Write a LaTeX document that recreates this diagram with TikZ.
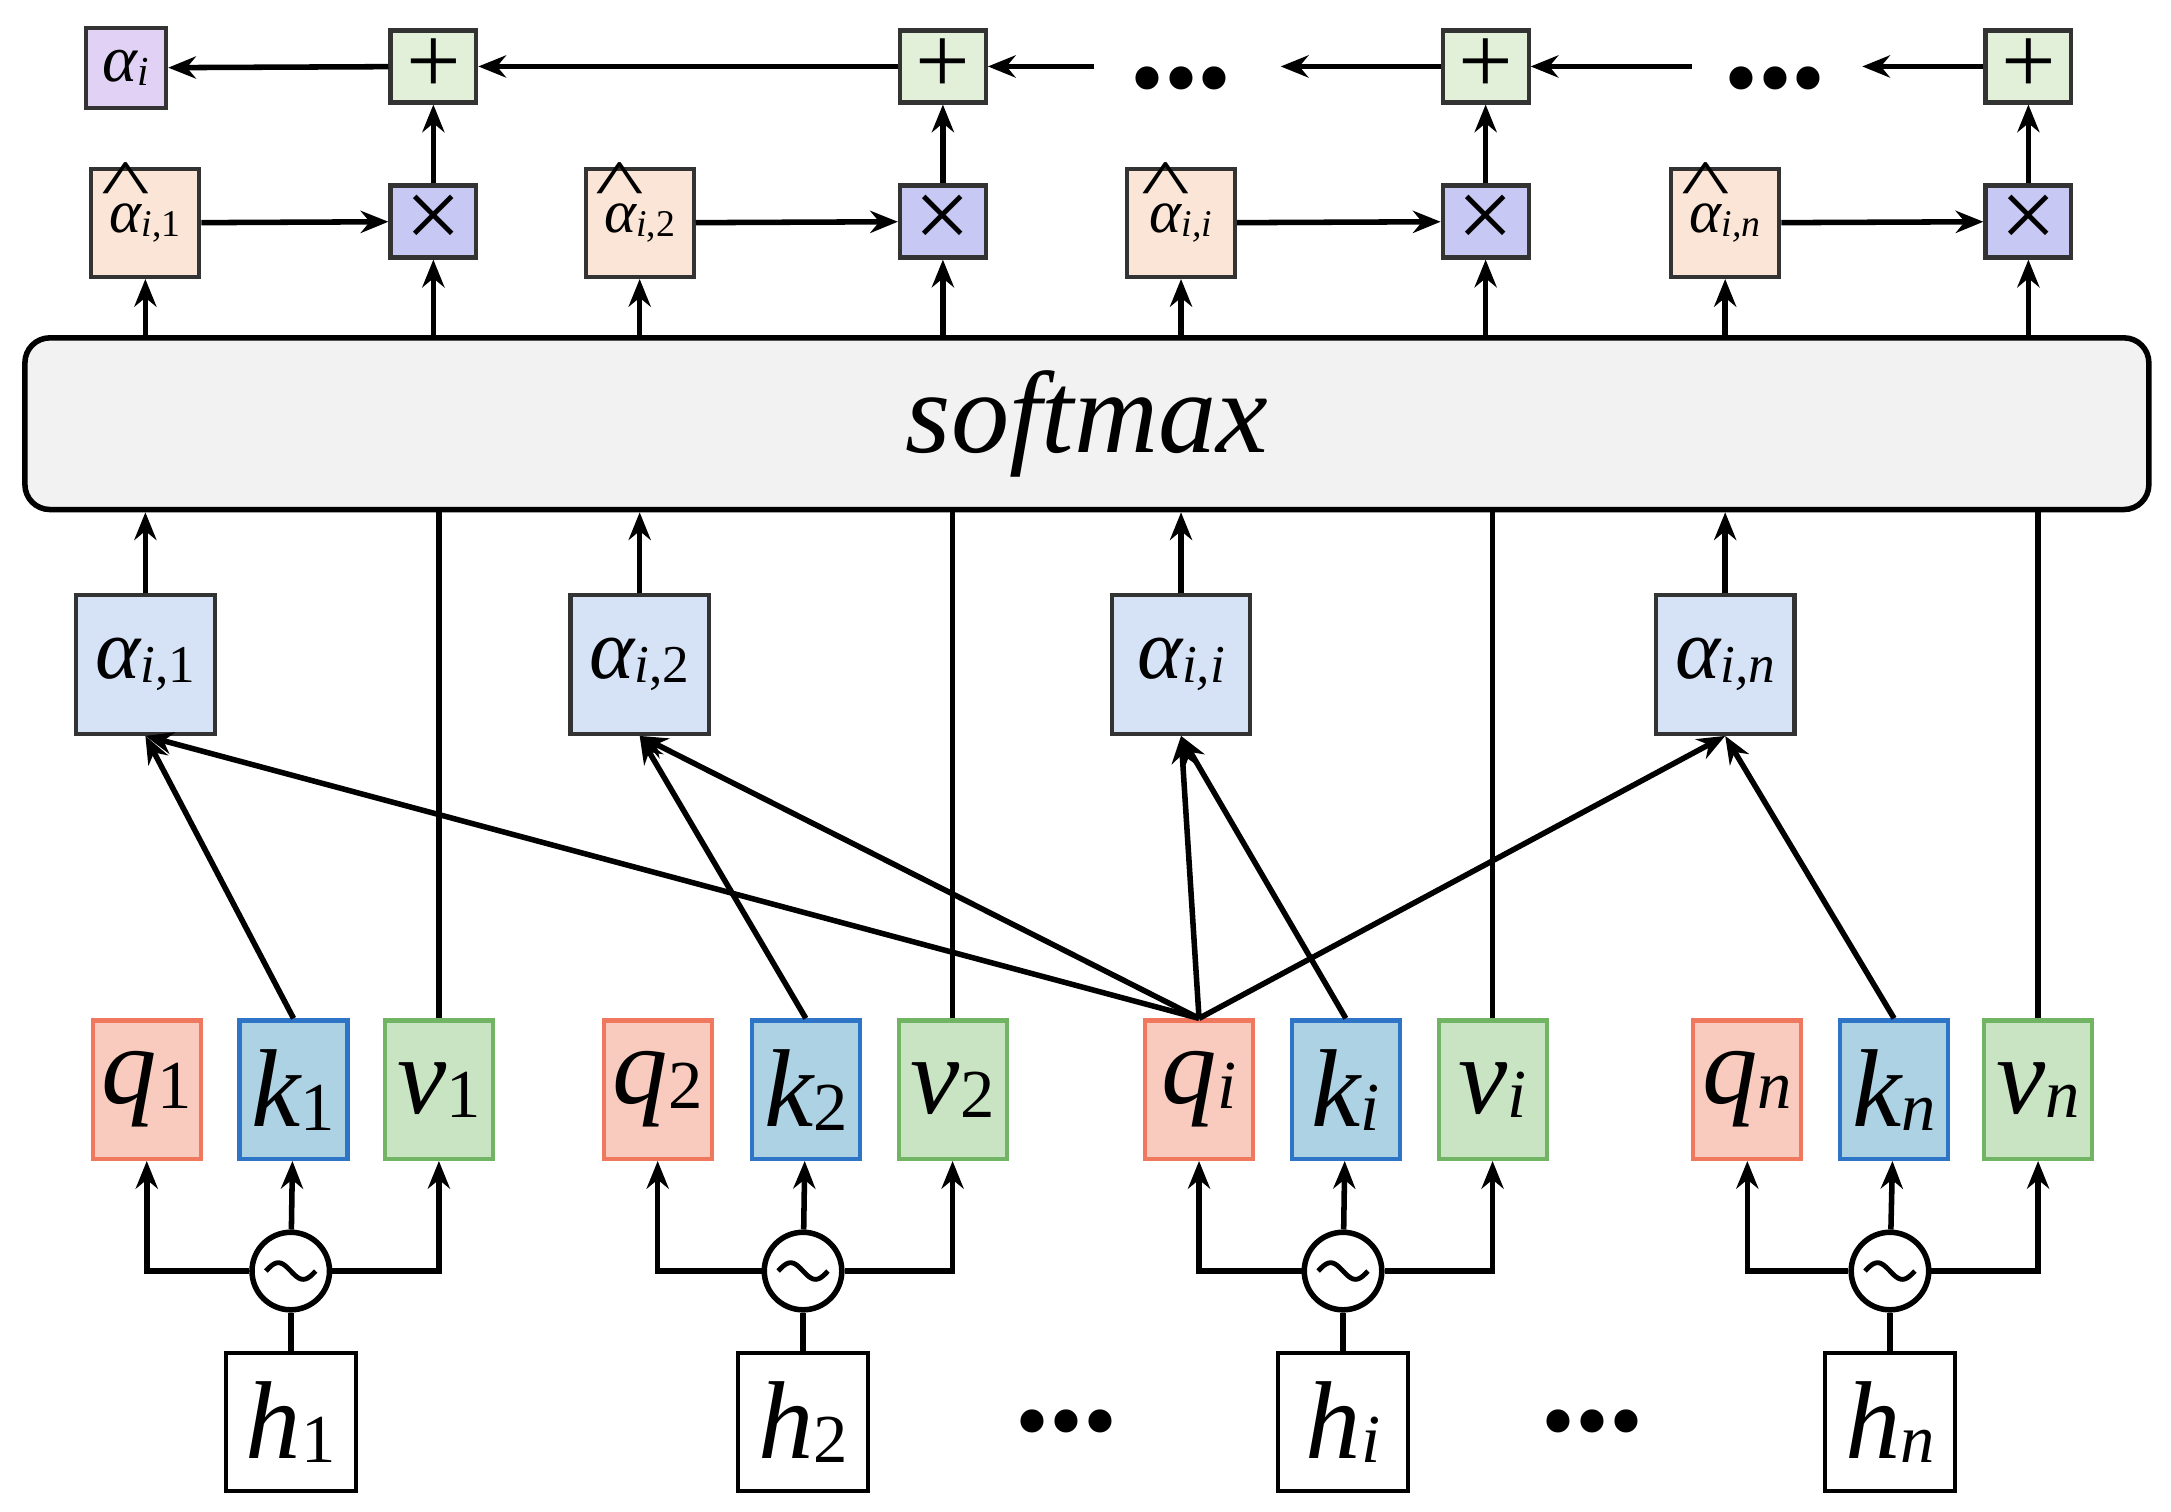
\documentclass[tikz,border=0pt]{standalone}
\usepackage{fontspec}
\usepackage{graphicx}
\setmainfont{Liberation Serif}
\usetikzlibrary{arrows.meta}
\newcommand{\sbx}[3]{{\fontsize{#3}{#3}\selectfont\itshape #1}\raisebox{-0.3em}{\fontsize{0.62\dimexpr#3\relax}{#3}\selectfont #2}}
\newcommand{\hatal}{\ooalign{α\cr\hidewidth\raisebox{0.42em}{\upshape\scalebox{1.7}[1.1]{\^{}}}\hidewidth\cr}}
\begin{document}
\begin{tikzpicture}[x=1pt,y=-1pt,
 ar/.style={line width=4pt,-{Stealth[length=20pt,width=16pt]}},
 ln/.style={line width=4pt},
 bx/.style={draw,line width=3pt,inner sep=0pt,anchor=center},
 qb/.style={bx,draw={rgb,255:red,240;green,120;blue,95},fill={rgb,255:red,248;green,203;blue,190},minimum width=78pt,minimum height=100pt},
 kb/.style={bx,draw={rgb,255:red,46;green,117;blue,200},fill={rgb,255:red,173;green,210;blue,228},minimum width=78pt,minimum height=100pt},
 vb/.style={bx,draw={rgb,255:red,112;green,180;blue,100},fill={rgb,255:red,200;green,228;blue,195},minimum width=78pt,minimum height=100pt},
 ab/.style={bx,draw=black!80,fill={rgb,255:red,214;green,226;blue,246},minimum width=100pt,minimum height=100pt},
 hb/.style={bx,draw=black,fill=white},
 tb/.style={bx,draw=black!80,fill={rgb,255:red,200;green,200;blue,245},minimum width=62pt,minimum height=52pt},
 pb/.style={bx,draw=black!80,fill={rgb,255:red,226;green,240;blue,217},minimum width=62pt,minimum height=52pt},
 hhb/.style={bx,draw=black!80,fill={rgb,255:red,251;green,229;blue,214},minimum width=78pt,minimum height=78pt},
 cb/.style={draw,line width=4pt,circle,minimum size=56pt,inner sep=0pt,fill=white},
 dots/.style={font=\fontsize{70}{70}\selectfont}]
\useasboundingbox (0,0) rectangle (1568,1092);
% top row
\node[bx,draw=black!80,fill={rgb,255:red,225;green,210;blue,245},minimum width=58pt,minimum height=58pt] (ai) at (91,49) {\sbx{α}{\itshape i}{48pt}};
\foreach \x/\n in {313/1,681/2,1073/3,1465/4}{
 \node[pb] (p\n) at (\x,48) {\fontsize{70}{70}\selectfont\raisebox{-0.08em}{+}};
 \node[tb] (t\n) at (\x,160) {\fontsize{72}{72}\selectfont\raisebox{-0.06em}{×}};
 \draw[ar] (t\n) -- (p\n);
}
\node[dots] (d1) at (853,64) {•••};
\node[dots] (d2) at (1282,64) {•••};
\coordinate (e1) at (1345,48); \coordinate (e2) at (1222,48);
\coordinate (e3) at (925,48); \coordinate (e4) at (790,48);
\draw[ar] (p4) -- (e1);
\draw[ar] (e2) -- (p3);
\draw[ar] (p3) -- (e3);
\draw[ar] (e4) -- (p2);
\draw[ar] (p2) -- (p1);
\draw[ar] (p1) -- (ai);
% hats
\node[hhb] (hh1) at (105,161) {\sbx{\hatal}{\itshape i\upshape,1}{44pt}};
\node[hhb] (hh2) at (462,161) {\sbx{\hatal}{\itshape i\upshape,2}{44pt}};
\node[hhb] (hh3) at (853,161) {\sbx{\hatal}{\itshape i,i}{44pt}};
\node[hhb] (hh4) at (1246,161) {\sbx{\hatal}{\itshape i,n}{44pt}};
\foreach \n in {1,2,3,4}{\draw[ar] (hh\n) -- (t\n);}
% softmax
\node[draw,line width=4pt,rounded corners=18pt,fill={rgb,255:red,242;green,242;blue,242},minimum width=1534pt,minimum height=124pt,anchor=center] (sm) at (785,306) {\fontsize{84}{84}\selectfont\itshape softmax};
\foreach \n in {1,2,3,4}{
 \draw[ar] (sm.north -| hh\n) -- (hh\n);
 \draw[ar] (sm.north -| t\n) -- (t\n);
}
% alpha boxes
\node[ab] (a1) at (105,480) {\sbx{α}{\itshape i\upshape,1}{62pt}};
\node[ab] (a2) at (462,480) {\sbx{α}{\itshape i\upshape,2}{62pt}};
\node[ab] (a3) at (853,480) {\sbx{α}{\itshape i,i}{62pt}};
\node[ab] (a4) at (1246,480) {\sbx{α}{\itshape i,n}{62pt}};
\foreach \n in {1,2,3,4}{\draw[ar] (a\n) -- (sm.south -| a\n);}
% q k v
\foreach \xq/\xk/\xv/\xh/\s/\n in {106/212/317/210/1/1,475/582/688/580/2/2,866/972/1078/970/i/3,1262/1368/1472/1365/n/4}{
 \node[qb] (q\n) at (\xq,787) {\sbx{q}{\if\s i\itshape\fi\if\s n\itshape\fi\s}{80pt}};
 \node[kb] (k\n) at (\xk,787) {\sbx{k}{\if\s i\itshape\fi\if\s n\itshape\fi\s}{80pt}};
 \node[vb] (v\n) at (\xv,787) {\sbx{v}{\if\s i\itshape\fi\if\s n\itshape\fi\s}{80pt}};
 \node[hb,minimum height=100pt,minimum width=94pt] (h\n) at (\xh,1027) {\sbx{h}{\if\s i\itshape\fi\if\s n\itshape\fi\s}{80pt}};
 \node[cb] (c\n) at (\xh,918) {};
 \draw[line width=3.5pt,shift={(c\n)}] plot[domain=-18:18,samples=30,smooth] (\x,{6*sin(\x*10)});
 \draw[ln] (h\n) -- (c\n);
 \draw[ar] (c\n.west) -| (q\n);
 \draw[ar] (c\n.east) -| (v\n);
 \draw[ar] (c\n) -- (k\n);
 \draw[ar] (k\n.north) -- (a\n.south);
 \draw[ln] (v\n.north) -- (sm.south -| v\n);
}
\foreach \n in {1,2,3,4}{\draw[ar] (q3.north) -- (a\n.south);}
\node[dots] at (770,1034) {•••};
\node[dots] at (1150,1034) {•••};
\end{tikzpicture}
\end{document}
